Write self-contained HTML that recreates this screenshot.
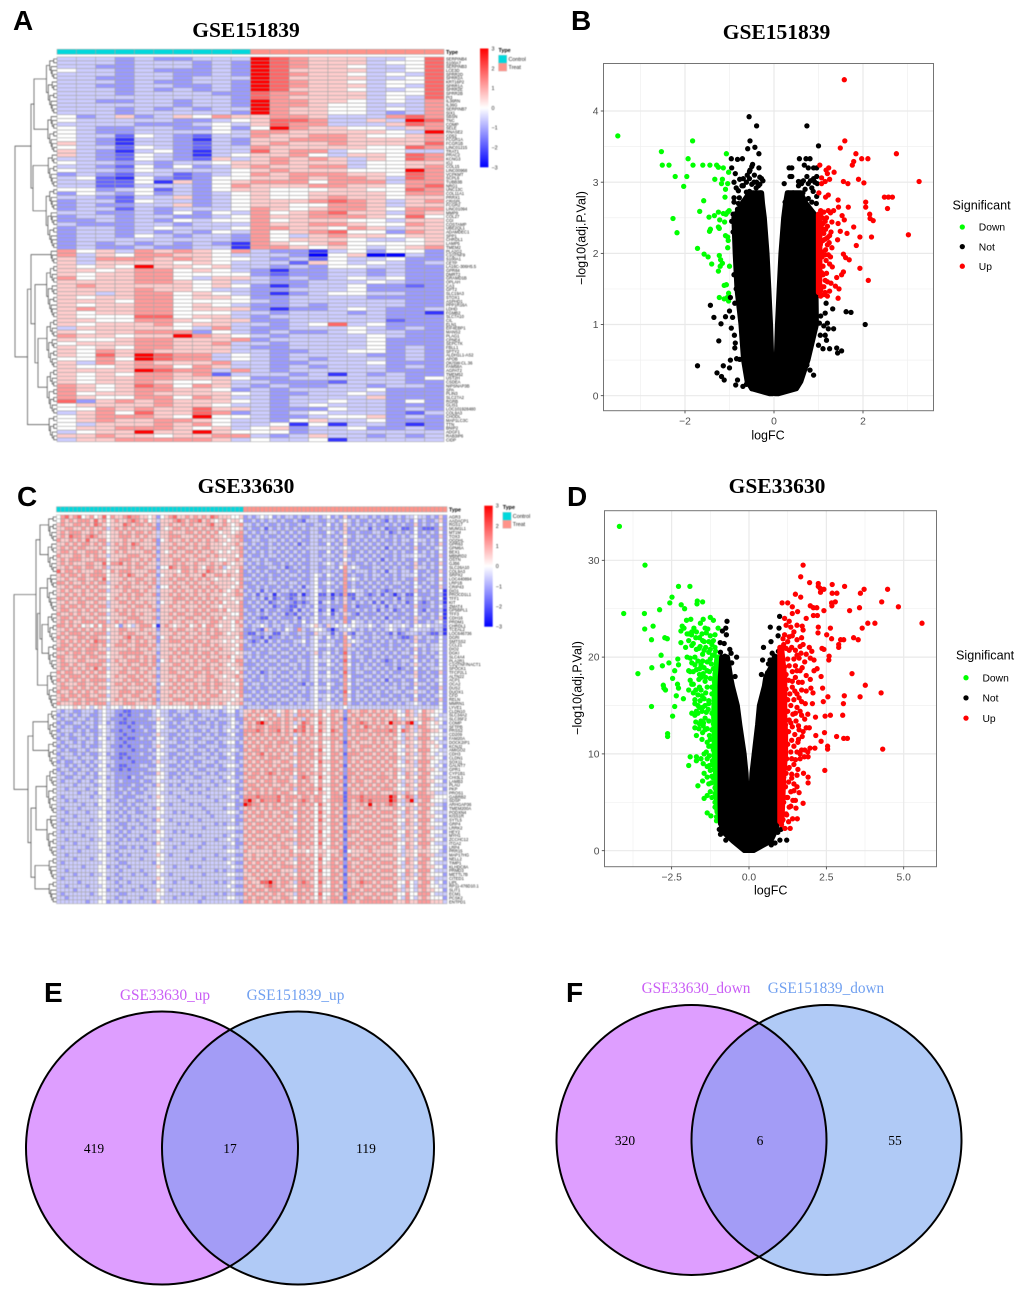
<!DOCTYPE html>
<html lang="en">
<head>
<meta charset="utf-8">
<title>Differential expression figure</title>
<style>
html,body{margin:0;padding:0;background:#fff;}
#fig{position:absolute;left:0;top:0;display:block;}
text{font-family:"Liberation Sans",sans-serif;}
.serif{font-family:"Liberation Serif",serif;}
#hmA,#hmC{filter:blur(0.4px);}
</style>
</head>
<body>
<svg id="fig" xmlns="http://www.w3.org/2000/svg" width="1020" height="1290" viewBox="0 0 1020 1290">
<rect x="0" y="0" width="1020" height="1290" fill="#fff"/>
<g id="hmA"></g>
<g id="hmC"></g>
<g id="vB"></g>
<g id="vD"></g>
<text x="13" y="30" font-size="28" font-weight="bold">A</text>
<text x="571" y="30" font-size="28" font-weight="bold">B</text>
<text x="17" y="506" font-size="28" font-weight="bold">C</text>
<text x="567" y="506" font-size="28" font-weight="bold">D</text>
<text x="44" y="1002" font-size="28" font-weight="bold">E</text>
<text x="566" y="1002" font-size="28" font-weight="bold">F</text>
<text class="serif" x="246" y="37" font-size="21.5" font-weight="bold" text-anchor="middle">GSE151839</text>
<text class="serif" x="776.5" y="39" font-size="21.5" font-weight="bold" text-anchor="middle">GSE151839</text>
<text class="serif" x="246" y="493" font-size="21.5" font-weight="bold" text-anchor="middle">GSE33630</text>
<text class="serif" x="777" y="493" font-size="21.5" font-weight="bold" text-anchor="middle">GSE33630</text>
<defs>
<clipPath id="clipE"><ellipse cx="162" cy="1148" rx="136" ry="136.5"/></clipPath>
<clipPath id="clipF"><ellipse cx="691.5" cy="1140" rx="135" ry="135"/></clipPath>
<linearGradient id="rampGrad" x1="0" y1="0" x2="0" y2="1"><stop offset="0" stop-color="#ff0000"/><stop offset="0.5" stop-color="#ffffff"/><stop offset="1" stop-color="#0000ff"/></linearGradient>
</defs>
<g>
<ellipse cx="162" cy="1148" rx="136" ry="136.5" fill="#de9eff"/>
<ellipse cx="298" cy="1148" rx="136" ry="136.5" fill="#b0caf6"/>
<ellipse cx="298" cy="1148" rx="136" ry="136.5" fill="#a39cf6" clip-path="url(#clipE)"/>
<ellipse cx="162" cy="1148" rx="136" ry="136.5" fill="none" stroke="#000" stroke-width="2"/>
<ellipse cx="298" cy="1148" rx="136" ry="136.5" fill="none" stroke="#000" stroke-width="2"/>
<text class="serif" x="165" y="1000" font-size="15.3" fill="#c95cf5" text-anchor="middle">GSE33630_up</text>
<text class="serif" x="295.5" y="1000" font-size="15.3" fill="#6f9ff0" text-anchor="middle">GSE151839_up</text>
<text class="serif" x="94" y="1153" font-size="13.5" text-anchor="middle">419</text>
<text class="serif" x="230" y="1153" font-size="13.5" text-anchor="middle">17</text>
<text class="serif" x="366" y="1153" font-size="13.5" text-anchor="middle">119</text>
</g>
<g>
<ellipse cx="691.5" cy="1140" rx="135" ry="135" fill="#de9eff"/>
<ellipse cx="826.5" cy="1140" rx="135" ry="135" fill="#b0caf6"/>
<ellipse cx="826.5" cy="1140" rx="135" ry="135" fill="#a39cf6" clip-path="url(#clipF)"/>
<ellipse cx="691.5" cy="1140" rx="135" ry="135" fill="none" stroke="#000" stroke-width="2"/>
<ellipse cx="826.5" cy="1140" rx="135" ry="135" fill="none" stroke="#000" stroke-width="2"/>
<text class="serif" x="696" y="993" font-size="15.3" fill="#c95cf5" text-anchor="middle">GSE33630_down</text>
<text class="serif" x="826" y="993" font-size="15.3" fill="#6f9ff0" text-anchor="middle">GSE151839_down</text>
<text class="serif" x="625" y="1145" font-size="13.5" text-anchor="middle">320</text>
<text class="serif" x="760" y="1145" font-size="13.5" text-anchor="middle">6</text>
<text class="serif" x="895" y="1145" font-size="13.5" text-anchor="middle">55</text>
</g>
</svg>
<script>
/* Heatmap digits: 0..9 index into colourLevels */
const colourLevels=[-3,-2.4,-1.8,-1.2,-0.6,0,0.6,1.2,1.8,3];
const colourbarTicks=[3,2,1,0,-1,-2,-3];
const groupNames=["Control","Treat"];

const labelsA=["SERPINB4","S100A7","SERPINB3","LCE3D","SPRR2D","SPRR2A","KRT16P2","SPRR1A","SPRR2E","SPRR2B","PI3","IL36RN","IL36G","SERPINB7","SIX1","SBSN","TNC","COMP","SELE","RNASE2","CD52","FCGR1A","FCGR1B","LINC01215","TRAT1","PRAC2","KCNG3","IGJ","COL15","LINC00968","VCPKMT","SCPL6","TUBB3B","NRG1","UNC13C","COL11A1","PRRX1","CRISPL","FCGR2","LINC01094","MMP9","COL27","CGI","COSTAMP","UBE2QL1","ADAMDEC1","SPP1","CHRDL1","LAMP5","TMEM2","PLA2G2","C1QTNF9","S100A1","CETP","LA16C-306H5.5","GPR84","DMRT2","GRAMD1B","OPLAH","CA3","GPT2","SLC19A3","STOX1","ASPHD1","PPP1R16A","LDHD","FGMB2","SLC7A10","CIL","ELN1","EIF4EBP1","MANS2","PLAG1","CPNE4","SEPCTK","FBLL1","SPTY2","ALDH1L1-AS2","APOB","OK/SW-CL.36","FAM58A","AGPAT2","TMEM52","UST2H","CSDEA","NIPSNAP3B","SPA","PLIN3","SLC27A2","RGRB","GLIS1","LOC101928480","COL9A3","CHODL","MAP1LC3C","TTN","BNIP2","ADGF1","RAB3IP6","CIDP","USP2B4","CCNPTS"];
const labelsC=["AGR3","AADACP1","RGS17","MUM1L1","MT1M","TOX3","OGDHL","GPR63","GPM6A","BEX1","MBNRD2","OSTN","GJB6","SLC26A10","COL9A3","SRPX2","LOC440894","LRP1B","CRIP43","DIO1","PROCD1L1","TFF1","KIT","ZMAT4","GP5BPL1","TFF3","CDH16","PRDM1","CHRDL1","TCEAL2","LOC646736","DGRI","SMTSS2","CCL21","DIO2","DGKI","SLC4A4","PLA2R1","C1QTNF/NACT1","SPOCK1","TFCP2L1","ALTN22","ACP1","OCA2","DUS2","DUOX1","CFD","RELN","MMRN1","LYVE1","CLDN10","SLC34A2","SLC35F2","COMP","SFTPB","PRSS2","CD209","FAM20A","DOCK2IP1","KCNJ2","AMIGO2","CDH3","CLDN1","SOX11","GALNT7","GPR1","CYP1B1","CHI3L1","LAMB3","PLAU","PKP","PROS1","GABRB2","SDSP","ARHGAP36","TMEM200A","PODXN4","KISS1R","SYTL5","GRP4","LRRK2","HEY2","MYH1","ZCCHC12","ITGA2","LRP4","PRR15","MAP17HG","NELL2","TIMP1","KLHDC8A","PRMD3","METTL7B","CITED1","LIPL","RP11-476D10.1","SLIT1","ECM1","PCSK2","ENTPD1"];

const matrixA=[
"4443433444 9876664458","4443444343 9876664558","4433444343 9876654458","5443433343 9866664458","4443443343 9876654548","4433443444 9866664458",
"4443433443 9876654558","4433443343 9876664548","4443434343 9866654458","4443444433 8776664558","4444444443 8766664548","4433443443 9776654547",
"4444443443 9776554447","4443434344 9766554547","4443444443 9766554347","5346346576 6776444787","5444443345 6887446498","4444333454 6877444687",
"5433443353 5976655467","5433444454 7766666549","5442543244 7667765567","5431443143 6677766667","6431443243 6766766668","5442543244 7666665587",
"6431453144 8677455544","6432543145 6675466587","4432543264 6767646587","5443434456 6766645566","4432535346 7667745567","5443544445 6766655597",
"3432442345 7677766587","4521532355 6676776487","4422516356 7775777477","4422444357 6667766578",
"5534524356 6555665587","3543534345 6556666577","4432446345 6556766566","3442544345 6667876467","3433446345 6655776466","3442434445 7656776577",
"4433435354 7567866476","3443443345 7667776585","3343435455 7566655466","4333443444 7667765576","3443454445 7766576466","3443434354 7567855376",
"3443543443 7546766566","3444444443 7566654456","3434343431 7656755556","3433433441 7765654567",
"7564767657 4331453553","7465776654 4430560043","6477767655 4342544533","6466665654 4426545434",
"6565966564 4343554433","6656775654 3133443433","6566775555 3233443433","7566775466 4343454533",
"6666776564 4334445433","6766666565 3134453323","6666766544 3344453333","6646775654 3134554433",
"6566775665 3344443333","6665775555 4344444433","6566775654 3343444433","6766775666 3133454334",
"6566775554 4344434331","6555885664 3444444333","6655776566 3344444233","6566675664 4345845333",
"4666665474 3344454343","6566777354 3433454433","7665669765 4344445433","6556776667 3444445333",
"5666776674 4344445333","6565776664 3344445343","6576766664 4334455343","6586987745 4344443343",
"5575987745 4343444343","6476766674 4334445333","6556775764 4343444343","6666987747 4344444333",
"6565776724 4434143433","6566776665 3344444435","6566765564 4333244433","7656875764 3433443443",
"7656776653 4344445333","7566766665 4334454333","7655775764 4344446333",
"8367676665 4344544353","5666676654 4345444333","5576766866 4333544343",
"4675866873 4345444324","5677765955 4334556343","5676677654 4356445333","5466676754 4515144313",
"5667776564 5634453343","4566966965 5534444444","6676656677 4346443434","4667777764 5445144444"
];

const matrixC=[
"5786785675 6857667877 6656356786 6767676876 66556","5767677768 6756766787 6756466678 7677867656 75665","6766776768 7656668767 7676366766 7676667866 76567","6677667676 6746767676 6667365677 6767676767 66556","6767776676 7656676767 7676466766 6776767675 66567",
"6768776787 6656677767 6766466777 6667676766 56677","7667676866 7756667666 7667356766 7676767676 65667","6676767767 6746767687 6666366676 6767667666 56676","6767677666 7656677676 7667466767 7667677666 66567","6776766777 6756767666 6776365676 6776766765 65667",
"7666776767 6646666777 6667466766 7667667676 66657","6767776667 7756677766 7676366677 6766776665 56676","6767666776 6857786767 6766466676 7667666766 76566","6676776776 6746666767 7666355876 7767657767 45667","8677676667 7657677766 6677466665 7767668766 56657",
"6767767677 7756676876 6766356676 6766686677 67667","6676677667 6856667667 7667466767 7676767656 66567","7767667676 7746676767 6767466676 6767666766 66657","6676776767 6656767766 6676355767 6676767676 66567","6767667676 7746667677 6766466676 7667676767 65676",
"6676767667 6656676767 7667366767 6767667666 56677","7767676776 7756766767 6666466677 7676767676 66566","6676677667 6646677676 6766356676 6767676767 56657","6767767676 7746666767 7676466766 7666767665 66667","6776676767 6656767676 6667366676 6767676776 75667",
"7667676676 7746677676 7666466767 7667767666 66557","6776767667 6656666777 6667366676 6776676767 56667","6767667776 7746767667 7666466766 7667666776 66576","7767675657 5766536546 7775167656 6756757765 66567","6676767676 6756677666 7666366767 7667667676 66566",
"6767776767 7746676776 6676466676 6766767677 65667","7676677677 6656667867 7667356766 7667666776 66657","6767676768 7746676767 6766366777 6776767666 56566","6776767677 6756777667 7767466666 7667677676 66657","7767676777 6646666767 6676466767 6767666767 66567",
"6676776776 7756677777 7666366676 7767677676 66656","7766767677 6656667667 6767466767 6676767667 67566","6766677666 7746766777 6767356766 7667676776 66577","6776766777 7656676766 7767466677 6767667667 65667","6767676768 6746667677 6676366766 7676677676 66566",
"7677667676 7756677667 6766466776 6767767667 66657","6767776767 6656766776 7667366667 7667667766 56676","7676767677 7746667677 6766466767 6776667676 66567","6766677667 6656776767 7676356676 7667677677 66657","6776767676 7746667666 6767466767 6767667676 66667",
"7667676767 6656677767 7667366676 7676767667 56567","6767767766 7746676677 6676466766 6767676776 66657","6776676777 6656767666 7767366677 7667667666 66566","7666776767 7746667776 6667466766 6776777667 65667","5555656545 6545545565 5655455555 5565656555 45554",
"4344334443 4544332233 3334544334 4433444343 45534","3443434433 4544323233 4334544343 4343344443 34434","4344344343 4543332333 3344654433 3443443434 44533","3433443443 4534322323 3333544343 4434334343 34543","4344334343 5544333233 4334554334 3443444343 44534",
"3444343433 4543323323 3433544443 4343343443 45443","4343443443 4544332333 3334644334 3444434343 34533","3443344343 5534323223 4343554343 4343344434 44443","4344343443 4544332333 3334544443 3443443343 45534","3434443433 4543323233 4334654334 4344334443 34433",
"4343344344 5544333323 3343544443 3443443434 44543","3444343433 4534322333 4334554334 4343344343 45434","4344434443 5543323233 3343544343 3434443443 34533","3433443434 4544333323 3334644443 4343344434 44434","4434344343 5534322333 4433554334 3443443343 45543",
"3443434434 4543323233 3344544443 4344334443 34434","4344344343 5544333333 4333654334 3434443434 44533","4433443443 4534333243 3444554343 4443344443 45434","4344434434 5544343333 4334544444 3444444344 34543","4444344443 4544333343 3443654343 4434344434 44434",
"4434444344 5534343433 4344554444 4344443444 45533","4444434443 5544334343 3444544344 4434344444 44434","4344444434 4544343334 4434654443 4444443444 34543","4434344444 5534433443 3444554444 3444444434 44434","4444443443 5544343434 4344544344 4434344444 45533",
"4344434444 4544434343 4443654444 4444434444 34434","4434444344 5534343443 3444554434 3444443444 45543","4444344444 5544434344 4344544444 4434444344 44434","4344444434 4534344343 4443654344 4444344444 44533","4434434444 5544433444 3444554443 4344444434 34434",
"4444444344 4544343434 4344544444 4444434444 45544","4344344444 5534434344 4443654434 3444444444 44433","4444443444 5544343444 3444554444 4434344444 34544","4434444434 4544434343 4344544344 4444444434 45434","4444344444 5534344444 4443654444 3444434444 44533",
"4344444344 5544433434 3444554434 4444344444 34434","4444434444 4544344444 4344544444 4434444444 45544","4434444444 5534434344 4444654344 4444444434 44433","4444344434 5544344444 3444554444 4344434444 34544","4344444444 4544433444 4443544444 4444444444 45433",
"4444443444 5534344344 4444654434 4434344444 44544","4434444444 5544434444 3444554444 4444444434 34433","4444344434 4544344434 4344544344 4444434444 45544","4344444444 5534434444 4444654444 3444444444 44433","4444434444 5544344344 4443554434 4434444434 34544",
"4434444344 4544434444 3444544444 4444344444 45433","4444344444 5534344434 4344654344 4444444444 44544","4344444434 5544433444 4444554444 3434444434 34433","4434444444 4544344444 3444544434 4444434444 45544","4444444344 5534434344 4443654444 4444344444 44443"
];
const matrixCTreat=[
"3434545343 4434334434 5343634344 3434343434 454434363","3343434434 3343244433 4434543433 4343243434 353433463","4434343343 4334433443 5343643434 3433434343 363434353","3433424343 4343434434 4343634344 2434233422 353222363","4343434434 3434334433 5434633433 3443423434 353434353",
"3434343343 4343434443 4343543443 4343434343 453343363","3344334434 3434334434 4434633434 3434334344 354434353","4343434343 4342434433 5343634343 4343434343 353434363","3434334434 3434344444 4434543434 3434243434 363343453","4343434343 4343434433 5343643343 4343434343 353434353",
"3433434434 3434334434 4434633434 3434334344 454434363","4344343343 4343434443 4343543443 4342434343 353343353","3434344334 3434334434 5434634334 3434343434 363434363","4343334434 2343434433 4435745433 3443434343 364434353","3434343343 4334334434 4343743444 3434244344 353343363",
"3343434334 3443434543 5434734334 3443434344 453434353","4434334343 4334334533 4343745434 3434334343 363344363","3343434434 3443434534 5434734343 4343434434 353434353","4334343343 3434244533 4343734334 3434343343 354343363","3434243434 4343434543 5433745443 4343234434 363434351",
"4342434143 3224134522 4132722443 2342431342 253334341","3343424234 3234344533 4243632434 3434334243 354343351","3434342343 4323234524 5343634343 4242434342 353234341","3343434234 3224343533 4333734233 3434243434 363334352","4334243343 3242434523 5134733434 3424342343 353243341",
"3434343434 2324343534 5243643243 3343434334 353434351","4343224343 3342434533 4343733434 3434243343 364334361","3434343434 4343534534 4434735443 4343434434 363343452","4344543443 4433445643 6454545444 5434454454 355454442","3343264343 5437434554 3134454343 4343454343 454443441",
"3224344224 4334433644 4243632443 3434324234 443432241","3433242334 3433434543 5343753434 3443434322 364344353","4323424343 3344534533 4433745443 3434343434 363343353","3434343434 4343434544 5434763434 4343343343 454434453","3343434343 3434344533 4343744343 3434343434 363434453",
"4434334434 4343434634 5343843434 3443434344 353434353","3434343343 3434334534 4434753443 3434343433 463343453","4343434434 4334434544 5343843343 4343234344 353434353","3334343343 3443434533 5434753434 3434334343 464344353","4343434434 4343434544 4343743434 4343434234 353434453",
"3434234343 3434334533 5334843443 3434343343 363343363","4343434434 4344434544 5443753334 4343434434 463434353","3433434343 3434334534 4334743443 3434243343 353343453","4344343434 4343243533 5433753434 4343434344 364434353","3434334343 3434434544 5334743343 3434344343 353343363",
"3343434434 4343434533 4343853434 3443434434 464434353","4434343343 3434334544 5434743443 4343343343 353343453","3343434434 4344434534 5343753434 3434434344 363434363","4434343343 3434344544 4434743343 4343343434 454343353","3444434444 4444444544 5444544444 4444444444 444444453",
"6676767656 7657676576 5776376677 6767676547 645766553","6767676746 7647767675 6766367676 7676767557 646765544","7676567676 7676476576 5767276766 6767667646 656776454","6768976776 7646876586 5776376787 6767697768 945765653","6767767776 7657867576 5767367768 7676767547 647765544",
"7778767786 7687867586 5876376777 6777787587 646776653","7676767676 7646767675 5767376766 7676767546 656765554","6767676767 6757676576 6776367677 6767676547 647775453","7676767677 7647767675 5767276766 6767667646 656766544","6767677676 6767676576 5766376677 7676767557 646765653",
"7677676767 6757767685 5767367676 6767676546 657775544","6767867676 7647677576 5776277767 7676767557 646765454","7676767776 6767767675 5767376676 6767677646 656766553","6767677667 7657676586 6776376767 7676767547 647775544","7676767676 6747767575 5767267676 6767676556 646765453",
"6767676767 7767676576 5776376767 7676767646 657766544","7677678767 6757767675 6767377676 6767667547 646775553","6776767676 7647876586 5776276767 7677767557 657765444","7667677677 7657676575 5767376776 6767676646 646766553","6776767667 6767767576 6776267676 7676767547 657775444",
"7677676776 6747677685 5767376767 6767776556 646765553","6767676767 7657767576 5776276676 7676667647 657766444","7778777786 7776776775 5777277787 7777798568 747776555","8976877786 7767876775 6777276787 8777798647 946775554","9877676767 7657767586 5767376676 9676787546 657766443",
"6767676776 6767676575 5776276767 7676667657 646775553","7676767667 7647767586 5767366676 6767776547 657765444","6767767676 7757676575 6776277767 7676667646 646766553","7676676767 6647767586 5767376676 6767776557 657775444","6767767676 7657676575 6776276767 7676667547 646765553",
"7676676767 6767767576 5767366676 6767776646 657766444","6767767667 7647676585 5776277767 7676667557 646775553","7676676776 6657767575 6767376676 6767776547 657765444","6767767676 7767676576 5776266767 7676667646 646766553","7676676767 6647767585 5767377676 6767776557 657775444",
"6767767667 7657676575 6776276767 7676667547 646765553","7666666766 6756656566 5667256666 7666666546 656665543","6676676767 6767767576 5767376676 6767776646 657766444","7676767676 7647676585 5776267767 7676667557 646775553","6767676767 6657767575 6767376676 6767776547 657765444",
"7676767667 7767676576 6776276767 7676667646 646766553","6767676776 6647767585 5767377676 6767776557 657775444","6676767676 7657676575 5776266767 7676667547 646765553","7667676767 6767767576 6767376676 6767776646 657766444","6766889767 7647876586 5776276787 7676667557 546775453",
"7676678767 6657777575 5767376676 6767776547 547765544","6767767776 7767676576 6776267767 7676667646 546766553","7676676767 6647767585 5767377676 6767776557 557775444","6767767667 7657676575 6776276767 7676667547 546765553","7767676776 7767767676 6777377677 7777776667 667776664"
];

/* Volcano B data: [logFC, -log10(adj.P.Val)] */
const bXTicks=[-2,0,2];
const bYTicks=[0,1,2,3,4];
const bDown=[[-3.51,3.65],[-2.53,3.43],[-2.51,3.24],[-2.36,3.24],[-1.93,3.33],[-1.83,3.58],[-1.82,3.24],[-2.22,3.08],[-1.96,3.08],[-2.03,2.94],[-1.6,3.24],[-1.44,3.24],[-1.29,3.24],[-1.25,3.21],[-1.14,3.2],[-1.07,3.4],[-1.02,3.14],[-1.33,3.04],[-1.16,3.04],[-1.18,2.98],[-1.04,2.98],[-1.09,2.9],[-1.1,2.79],[-1.58,2.74],[-1.67,2.59],[-2.27,2.49],[-2.18,2.29],[-1.46,2.51],[-1.34,2.53],[-1.25,2.58],[-1.14,2.56],[-1.04,2.58],[-1.22,2.47],[-1.11,2.44],[-1.25,2.37],[-1.23,2.35],[-1.43,2.34],[-1.45,2.31],[-1.09,2.25],[-1.04,2.23],[-1.03,2.18],[-1.04,2.08],[-1.72,2.07],[-1.57,1.99],[-1.48,1.95],[-1.23,1.97],[-1.2,1.91],[-1.16,1.86],[-1.4,1.85],[-1.21,1.82],[-1.0,1.82],[-1.25,1.75],[-1.12,1.55],[-1.07,1.56],[-1.23,1.38],[-1.12,1.36],[-1.02,1.44],[-1.02,1.33],[-1.05,1.38],[-1.08,2.55],[-1.01,2.6]];
const bUp=[[1.58,4.44],[1.59,3.58],[1.49,3.48],[1.84,3.4],[2.75,3.4],[1.97,3.33],[2.11,3.33],[1.79,3.29],[1.76,3.24],[3.26,3.01],[1.03,3.24],[1.23,3.2],[1.17,3.17],[1.35,3.14],[1.2,3.12],[1.07,3.06],[1.25,3.04],[1.15,3.01],[1.07,2.98],[1.56,3.01],[1.66,2.98],[1.9,3.04],[2.02,2.99],[1.01,2.85],[1.22,2.82],[1.16,2.79],[1.44,2.75],[2.48,2.79],[2.57,2.79],[2.66,2.79],[2.55,2.63],[2.06,2.72],[2.06,2.65],[1.67,2.65],[1.45,2.65],[2.15,2.55],[2.16,2.49],[2.23,2.46],[1.34,2.6],[3.02,2.26],[2.19,2.23],[1.93,2.23],[1.85,2.11],[1.79,2.37],[1.64,2.28],[1.43,2.19],[1.49,2.31],[1.56,1.99],[1.61,1.94],[1.69,1.91],[1.93,1.79],[2.12,1.62],[1.56,1.74],[1.52,1.7],[1.41,1.66],[1.38,1.54],[1.46,1.5],[1.44,1.37],[1.31,1.81],[1.53,2.53],[1.58,2.47],[1.44,2.42],[1.27,2.57],[1.3,2.44],[1.28,2.3],[1.3,2.08],[1.27,1.95],[1.22,2.6],[1.12,2.58],[1.18,2.5],[1.08,2.5],[1.1,2.42],[1.16,2.34],[1.06,2.3],[1.2,2.22],[1.1,2.18],[1.04,2.12],[1.16,2.05],[1.08,2.02],[1.22,1.98],[1.03,1.88],[1.1,1.82],[1.18,1.72],[1.07,1.73],[1.2,1.6],[1.12,1.53],[1.04,1.55],[1.25,1.47],[1.12,1.42],[1.05,1.4],[1.28,1.58],[1.02,1.62],[1.17,1.9],[1.12,2.28],[1.24,2.15],[1.01,2.25],[1.05,2.42],[1.05,2.6],[1.15,1.45],[1.05,2.55],[1.15,2.45],[1.2,2.38],[1.08,2.35],[1.15,2.2],[1.25,2.25],[1.05,2.15],[1.2,2.12],[1.08,1.95],[1.15,1.98],[1.25,1.85],[1.1,1.7],[1.15,1.62],[1.05,1.48],[1.2,1.4]];
const bNot=[[-0.56,3.92],[-0.39,3.79],[0.74,3.79],[-0.54,3.58],[1.0,3.51],[-0.59,3.47],[-0.43,3.49],[-0.34,3.4],[-0.96,3.33],[-0.82,3.32],[-0.71,3.33],[-0.95,3.2],[0.57,3.33],[0.72,3.33],[0.81,3.33],[0.68,3.24],[0.34,3.2],[0.4,3.2],[0.89,3.2],[0.96,3.2],[0.77,3.2],[-0.5,3.22],[-0.54,3.17],[-0.34,3.2],[-0.87,3.12],[-0.77,3.04],[-0.69,3.05],[-0.69,2.95],[-0.32,3.07],[-0.25,3.02],[-0.39,3],[-0.5,2.97],[-0.32,2.97],[-0.44,3.1],[-0.62,3.0],[-0.55,2.87],[-0.9,2.78],[-0.78,2.78],[-0.6,2.78],[-0.4,2.85],[-0.3,2.85],[-0.92,2.55],[-0.82,2.62],[0.23,2.98],[0.36,3.08],[0.4,3.08],[0.55,3.01],[0.62,2.98],[0.74,3.08],[0.89,3.05],[0.96,3.08],[0.77,2.98],[0.97,2.98],[0.32,2.85],[0.43,2.85],[0.65,2.85],[0.88,2.87],[0.36,2.77],[0.62,2.75],[0.77,2.77],[0.96,2.8],[0.52,2.72],[0.25,2.72],[-1.43,1.27],[-1.35,1.1],[-1.19,1.01],[-1.09,1.11],[-1.0,1.19],[-1.24,0.77],[-0.89,0.85],[-0.87,0.74],[-0.88,0.67],[-0.96,0.95],[-1.72,0.42],[-1.14,0.42],[-1.28,0.32],[-1.18,0.27],[-1.12,0.22],[-1.0,0.39],[-0.98,0.5],[-0.84,0.52],[-0.77,0.51],[-0.82,0.22],[-0.86,0.15],[-0.7,0.13],[-0.88,1.3],[-0.78,1.3],[-0.85,1.5],[-0.9,1.7],[-0.84,1.85],[1.17,1.3],[1.32,1.22],[1.15,1.16],[1.62,1.18],[1.73,1.17],[2.05,1.0],[1.34,0.94],[1.2,1.02],[1.22,0.94],[1.15,0.85],[1.18,0.78],[1.41,0.67],[1.52,0.63],[1.43,0.6],[1.25,0.66],[1.1,0.66],[1.04,0.85],[1.0,0.71],[0.89,0.29],[0.81,0.36],[0.74,0.43],[1.05,1.12],[1.12,0.98],[1.02,1.02],[-0.98,1.38],[-0.93,1.1],[0.66,0.36],[0.5,0.2],[-0.62,0.16],[-0.5,0.1],[-0.55,3.15],[-0.48,3.25],[-0.6,3.1],[-0.9,3.0],[-0.85,2.92],[-0.8,2.88],[-0.72,2.95],[-0.55,3.05],[-0.45,3.0],[-0.35,2.95],[-0.28,3.05],[-0.4,2.92],[-0.62,2.86],[-0.9,2.72],[-0.8,2.7],[-0.7,2.72],[-0.3,2.78],[-0.5,2.72],[-0.6,2.68],[-0.95,2.45],[-0.92,2.3],[0.55,2.95],[0.6,3.0],[0.66,3.02],[0.82,3.02],[0.92,3.0],[0.7,2.9],[0.85,2.92],[0.3,2.72],[0.4,2.78],[0.5,2.68],[0.7,2.7],[0.85,2.72],[0.95,2.7],[0.6,2.65],[0.28,2.62]];
const bMassY=[0.03,0.1,0.2,0.5,1,1.5,2,2.5,2.7,2.85];
const bLeftOuter=[-0.1,-0.5,-0.6,-0.68,-0.74,-0.83,-0.87,-0.9,-0.72,-0.55];
const bLeftInner=[-0.03,-0.04,-0.05,-0.055,-0.08,-0.12,-0.16,-0.22,-0.26,-0.28];
const bRightInner=[0.03,0.04,0.05,0.055,0.08,0.12,0.16,0.22,0.26,0.3];
const bRightOuter=[0.1,0.5,0.6,0.76,0.95,0.94,0.97,0.97,0.72,0.6];

/* Volcano D data */
const dXTicks=[-2.5,0,2.5,5];
const dYTicks=[0,10,20,30];
const dXLabels=["−2.5","0.0","2.5","5.0"];
const dDown=[[-4.19,33.5],[-3.36,29.5],[-4.05,24.5],[-3.38,24.5],[-2.89,24.9],[-2.28,27.3],[-1.91,27.3],[-2.49,26.2],[-2.56,25.6],[-2.19,25.4],[-2.08,25],[-1.67,25.8],[-1.68,25.5],[-1.5,25.7],[-3.37,22.9],[-3.1,23.2],[-3.15,21.8],[-2.72,22],[-2.64,21.9],[-2.84,20.2],[-2.8,19.1],[-2.59,19.4],[-3.14,18.9],[-3.59,18.3],[-2.4,18.6],[-2.47,17.8],[-2.77,17.1],[-2.75,16.8],[-2.7,16.6],[-2.31,17.2],[-2.28,16.8],[-2.35,16],[-2.12,15.7],[-2.4,14.9],[-3.15,14.9],[-2.47,13.9],[-2.63,12.1],[-2.63,11.8],[-2.02,23.8],[-1.88,23.9],[-2.16,23.2],[-2.2,22.7],[-1.86,22.3],[-1.57,23.5],[-1.48,23.9],[-1.25,24.1],[-1.15,23.8],[-1.42,23],[-1.0,23],[-2.2,21.5],[-2.05,21],[-1.85,21.2],[-1.6,22],[-1.5,21.7],[-1.4,21],[-1.3,20.5],[-1.15,21.7],[-1.25,19.8],[-1.5,20.3],[-1.75,20],[-1.9,19.9],[-1.65,19.6],[-2.3,19.8],[-2.28,19.2],[-1.95,18.6],[-1.8,18.5],[-1.6,18.2],[-1.45,18.9],[-1.28,18.5],[-1.1,18.3],[-1.85,17.2],[-1.95,16.6],[-1.8,16.3],[-1.6,16.9],[-1.4,16.3],[-1.2,16.9],[-1.75,15.6],[-1.65,15],[-1.85,14.2],[-1.75,14],[-1.5,14.8],[-1.38,14.3],[-1.72,13.3],[-1.55,13.4],[-1.75,12.7],[-1.62,12.6],[-1.42,12.5],[-1.7,11.9],[-1.52,11.5],[-1.28,11.9],[-1.22,10.8],[-1.45,10],[-1.35,9.5],[-1.18,9.3],[-1.95,8.8],[-1.9,9.7],[-1.7,9.7],[-1.7,9.3],[-1.45,8],[-1.65,6.7],[-1.5,7.2],[-1.35,7.6],[-1.3,6.9],[-1.2,5.5],[-1.45,5.4],[-1.25,6.1],[-1.35,3.9],[-1.23,3.6],[-1.05,3.1],[-1.05,3.5],[-1.1,4.5],[-1.1,5],[-1.55,19.2],[-1.35,19.5],[-1.42,17.5],[-1.52,16],[-1.3,15.5],[-1.47,13.2],[-1.35,11.2],[-1.58,21.1],[-1.7,20.8],[-1.25,22.2],[-1.1,22.3],[-1.48,18.3],[-1.62,17.7],[-1.95,22.4],[-1.7,22.6],[-1.33,22.9],[-1.08,20.6],[-1.18,20.2],[-2.0,20],[-1.58,15.5],[-1.42,15],[-1.65,14.2],[-1.5,12.2],[-1.2,7.7],[-1.15,8.4],[-1.28,8.8],[-1.1,6.5],[-2.1,23],[-2,22.4],[-1.85,22.6],[-1.78,23],[-1.72,22],[-1.52,22.4],[-1.45,21.6],[-1.38,22.5],[-1.3,21.6],[-1.2,21.3],[-1.1,21],[-1.95,21.7],[-1.8,21.4],[-1.62,20.9],[-1.45,20.7],[-1.25,20.8],[-1.12,20.2],[-1.85,19.4],[-1.75,19.2],[-1.6,18.8],[-1.5,19.6],[-1.35,18.6],[-1.22,19.3],[-1.15,18.8],[-1.05,19.4],[-1.7,18.7],[-1.55,17.9],[-1.4,17.9],[-1.25,17.8],[-1.12,17.5],[-1.9,18.5],[-1.9,17.6],[-1.8,17.2],[-1.72,16.6],[-1.55,16.6],[-1.35,16.9],[-1.2,16.2],[-1.08,16.6],[-1.65,16.1],[-1.45,15.7],[-1.3,15.2],[-1.12,15.4],[-1.75,15.2],[-1.6,14.8],[-1.52,14.4],[-1.32,14.6],[-1.2,14.2],[-1.08,14.3],[-1.7,14.4],[-1.42,13.7],[-1.3,13.4],[-1.15,13.1],[-1.6,13.1],[-1.48,12.9],[-1.2,12.5],[-1.08,12.4],[-1.35,12.6],[-1.25,11.5],[-1.12,11.4],[-1.3,10.8],[-1.15,10.4],[-1.08,10.9],[-1.38,10.2],[-1.28,9.8],[-1.08,9.6],[-1.55,9.5],[-1.48,9],[-1.35,8.7],[-1.2,8.9],[-1.08,8.3],[-1.25,8.3],[-1.15,7.5],[-1.05,7.2],[-1.22,7],[-1.1,5.9],[-1.05,4.6],[-1.35,5.7]];
const dUp=[[1.75,29.5],[1.67,28.3],[1.96,27.7],[2.24,27.6],[2.24,27.3],[2.3,27.1],[2.31,26.7],[2.42,27],[2.69,27.5],[3.09,27.3],[2.69,26.6],[2.84,26.6],[3.72,27],[3.6,26.6],[4.48,27],[1.5,26.5],[1.67,26.2],[4.29,25.7],[4.83,25.2],[3.57,25.1],[3.25,24.8],[2.68,25.3],[2.67,25.6],[2.79,25.7],[2.42,24.8],[1.98,25.3],[2.08,25.1],[2.19,25.1],[1.07,25.6],[1.25,25.6],[1.4,25.2],[1.57,24.7],[1.4,24.5],[2.08,24.3],[2.21,24.3],[1.85,24],[3.84,23.5],[4.07,23.5],[5.59,23.5],[3.66,23],[2.24,23.1],[2.63,23],[2.23,22.5],[2.51,22.3],[2.67,21.9],[3.38,22],[3.53,21.8],[2.96,21.8],[3.06,21.8],[2.9,21.3],[2.9,21],[2.36,20.9],[2.42,20.8],[2.03,20.6],[2.59,20.1],[2.58,19.7],[3.33,18.3],[3.76,17.1],[4.27,16.3],[3.08,16],[3.59,15.9],[3.05,15.2],[3.03,14],[2.63,14],[2.46,13.9],[2.83,11.8],[3.06,11.6],[3.18,11.6],[4.32,10.5],[2.16,11.9],[2.33,11.3],[2.44,12.2],[2.54,10.8],[2.54,10.5],[2.45,8.3],[2.13,10.6],[1.97,10.6],[1.91,9.7],[1.79,9.7],[1.76,8],[1.91,7.6],[1.91,7],[1.75,4.9],[1.56,3.3],[1.41,3.3],[1.52,4.4],[1.33,2.3],[1.16,2.3],[1.15,24],[1.3,23.7],[1.55,23.3],[1.72,23.2],[1.75,22.8],[1.1,21.9],[1.25,21.6],[1.4,22.2],[1.65,21.1],[1.75,21.3],[1.85,20.3],[1.98,19.9],[1.55,20.2],[1.3,20.7],[1.8,19.5],[2.1,19.7],[2.1,18.6],[2.2,18.8],[2.33,18],[1.85,18.1],[1.65,18.6],[1.98,17.7],[2.0,16.8],[2.07,16.3],[2.38,16.8],[2.4,15.4],[2.55,15.9],[1.85,16.5],[1.62,15.8],[1.82,15.2],[2.05,15.2],[1.9,14.1],[2.15,13.8],[1.8,13.6],[1.6,12.9],[1.85,12.7],[1.95,12.7],[1.72,11.8],[1.58,11.2],[1.9,10.2],[1.65,10],[1.5,9.4],[1.55,7.8],[1.38,7.5],[1.55,6.6],[1.45,6.2],[1.62,6],[1.5,5.2],[1.35,4.6],[1.22,3.7],[1.28,3],[1.05,2.7],[1.4,17.5],[1.48,16.5],[1.5,14.2],[1.35,13.2],[1.38,9.5],[1.28,8.5],[1.22,5.5],[1.7,22],[1.95,21],[1.5,19.1],[1.62,19.9],[1.72,17.4],[1.2,23.3],[1.35,23.1],[1.45,22.6],[1.15,22.3],[1.3,22.1],[1.55,21.8],[1.12,21.3],[1.2,20.9],[1.38,21],[1.5,20.7],[1.05,20.6],[1.45,19.8],[1.25,19.8],[1.1,19.6],[1.68,20.4],[1.15,19],[1.3,19.1],[1.4,18.5],[1.55,18.6],[1.72,18.9],[1.2,18.2],[1.05,18.3],[1.5,17.9],[1.6,17.4],[1.28,17.6],[1.12,17.3],[1.4,16.9],[1.2,16.7],[1.32,16.2],[1.08,16.3],[1.55,16.2],[1.7,16.6],[1.25,15.6],[1.45,15.6],[1.7,15.4],[1.12,15.2],[1.35,15],[1.55,14.8],[1.65,14.4],[1.25,14.4],[1.42,14.1],[1.1,14],[1.7,14],[1.3,13.5],[1.52,13.4],[1.18,13],[1.4,12.8],[1.62,12.5],[1.28,12.3],[1.48,12],[1.75,12.3],[1.15,11.8],[1.38,11.4],[1.6,11.5],[1.25,11],[1.45,10.8],[1.7,10.4],[1.12,10.3],[1.35,10.2],[1.55,10.2],[1.8,10.4],[1.22,9.5],[1.65,9.5],[1.45,8.9],[1.12,8.9],[1.3,8.6],[1.58,8.4],[1.2,8],[1.38,7.9],[1.12,7.6],[1.28,7.1],[1.45,6.9],[1.18,6.6],[1.35,6.1],[1.08,6],[1.25,5.5],[1.42,5.2],[1.12,5],[1.3,4.5],[1.05,4.2],[1.2,3.8],[1.1,3.2]];
const dNot=[[-0.71,23.7],[-0.75,23],[-0.86,22.7],[-0.73,22.3],[-0.93,21.5],[-0.8,21.4],[-0.4,20],[-0.58,20.4],[-0.62,20.8],[-0.56,19.4],[-0.45,18],[-0.92,20.5],[-0.78,20.1],[-0.68,18.9],[0.99,24.2],[0.69,23.1],[0.97,23],[0.94,22.2],[0.71,21.6],[0.47,21],[0.44,19.7],[0.75,20.4],[0.68,19.7],[0.63,19.3],[0.95,20.6],[0.84,20.1],[0.9,19.1],[0.78,19.6],[0.4,18.2],[0.6,18.4],[1.22,1.1],[1.0,1.1],[0.84,0.8],[-0.96,2.2],[-0.92,1.7],[-0.86,3],[-0.92,2.8],[0.93,1.9],[1.03,2.2],[-0.75,1.1],[0.72,0.6]];
const dMassY=[0.03,1,2,3,5,8,10,13,15,17,18,19,20];
const dLeftOuter=[-0.15,-0.52,-0.85,-0.92,-0.93,-0.93,-0.93,-0.93,-0.93,-0.93,-0.92,-0.9,-0.88];
const dLeftInner=[-0.02,-0.03,-0.03,-0.04,-0.05,-0.1,-0.16,-0.3,-0.38,-0.54,-0.6,-0.65,-0.7];
const dRightInner=[0.02,0.03,0.03,0.04,0.05,0.1,0.17,0.28,0.34,0.5,0.55,0.72,0.82];
const dRightOuter=[0.15,0.7,0.85,0.93,0.93,0.93,0.93,0.93,0.93,0.93,0.92,0.9,0.9];
const dDownBandY=[4,6,8,10,12,14,16,18,20];
const dDownBandOuter=[-1.03,-1.06,-1.08,-1.12,-1.12,-1.14,-1.12,-1.1,-1.03];
const dUpBandY=[3,6,8,10,12,14,16,18,20,21];
const dUpBandOuter=[1.06,1.1,1.12,1.18,1.18,1.15,1.15,1.15,1.08,1.05];
const bUpBandY=[1.45,1.8,2.2,2.55];
const bUpBandOuter=[1.02,1.03,1.03,1.03];

const legendNames=["Down","Not","Up"];
const legendColours=["#00ff00","#000000","#ff0000"];

const NS="http://www.w3.org/2000/svg";
function mk(tag,attrs,parent,txt){
  const e=document.createElementNS(NS,tag);
  for(const k in attrs){e.setAttribute(k,attrs[k]);}
  if(txt!==undefined){e.textContent=txt;}
  parent.appendChild(e);
  return e;
}
function scale(d0,d1,r0,r1){return v=>r0+(v-d0)*(r1-r0)/(d1-d0);}
function cellColour(v){
  const t=Math.min(1,Math.abs(v)/3);
  const c=Math.round(255*(1-t));
  return v>=0?`rgb(255,${c},${c})`:`rgb(${c},${c},255)`;
}

function drawTree(tree,g,rowY,right){
  let row=0;
  function line(d){
    const p=mk('path',{d:d,fill:'none',stroke:'#444','stroke-width':0.7},g);
    
    
  }
  function comb(n){
    if(n===1){const y=rowY(row);row++;return {x:right,y:y};}
    const a=Math.max(1,Math.floor(n*0.42));
    const p=comb(a),q=comb(n-a);
    const x=right-2.5*Math.log2(n)-0.8;
    line(`M${p.x} ${p.y}H${x}V${q.y}H${q.x}`);
    return {x:x,y:(p.y+q.y)/2};
  }
  function walk(node){
    if(typeof node==='number'){return comb(node);}
    const p=walk(node[1]),q=walk(node[2]);
    line(`M${p.x} ${p.y}H${node[0]}V${q.y}H${q.x}`);
    return {x:node[0],y:(p.y+q.y)/2};
  }
  walk(tree);
}

function drawHeatmap(g,cfg){
  const nCols=cfg.rows[0].length;
  const nRows=cfg.rows.length;
  const cw=(cfg.x1-cfg.x0)/nCols, rh=(cfg.y1-cfg.y0)/nRows;
  for(let c=0;c<nCols;c++){
    const a=mk('rect',{x:cfg.x0+c*cw,y:cfg.annY0,width:cw,height:cfg.annY1-cfg.annY0,fill:c<cfg.nControl?'#00d8dc':'#ff9289',stroke:'#a8a8a8','stroke-width':cfg.sw},g);
    
    
  }
  mk('text',{x:cfg.x1+2,y:cfg.annY1-0.4,'font-size':5.3,'font-weight':'bold'},g,'Type');
  cfg.rows.forEach((row,r)=>{
    for(let c=0;c<nCols;c++){
      const v=colourLevels[+row[c]];
      const cell=mk('rect',{x:cfg.x0+c*cw,y:cfg.y0+r*rh,width:cw,height:rh,fill:cellColour(v),stroke:'#a6a6a6','stroke-width':cfg.sw},g);
      
      
    }
    const lab=mk('text',{x:cfg.x1+2,y:cfg.y0+r*rh+rh/2+1.5,'font-size':4.2,fill:'#111'},g,cfg.labels[r]||'');
    
    
  });
  drawTree(cfg.tree,g,r=>cfg.y0+r*rh+rh/2,cfg.x0);
  const bar=mk('rect',{x:cfg.cbX,y:cfg.cbY0,width:8.4,height:cfg.cbY1-cfg.cbY0,fill:'url(#rampGrad)'},g);
  
  
  const cy=scale(3,-3,cfg.cbY0,cfg.cbY1);
  colourbarTicks.forEach(t=>{
    const tk=mk('text',{x:cfg.cbX+11.5,y:cy(t)+2,'font-size':5.4,fill:'#222'},g,(t<0?'−':'')+Math.abs(t));
    
    
  });
  const lx=cfg.cbX+18.5;
  mk('text',{x:lx,y:cfg.cbY0+3.5,'font-size':5.4,'font-weight':'bold'},g,'Type');
  groupNames.forEach((n,i)=>{
    const sw=mk('rect',{x:lx,y:cfg.cbY0+6.6+i*8,width:8.3,height:8,fill:i?'#ff9289':'#00d8dc',stroke:'#bbb','stroke-width':0.3},g);
    
    
    const t=mk('text',{x:lx+10,y:cfg.cbY0+12.5+i*8,'font-size':5.4,fill:'#222'},g,n);
    
    
  });
}

const treeA=[15,[31,[34,15,10],[33,9,16]],[27.5,[31,4,[35,14,[38,13,12]]],7]];
const treeC=[14,[36,[40,7,8],[37.5,[40,10,[42,8,7]],10]],[28,[33,8,7],[31,[36,12,11],[35,6,6]]]];

drawHeatmap(document.getElementById('hmA'),{
  rows:matrixA.map(s=>s.replace(/ /g,'')),labels:labelsA,nControl:10,tree:treeA,
  x0:57,x1:444,y0:57,y1:441.7,annY0:49.3,annY1:54.3,sw:0.55,cbX:480,cbY0:48.5,cbY1:167.3
});
drawHeatmap(document.getElementById('hmC'),{
  rows:matrixC.map((s,i)=>s.replace(/ /g,'')+matrixCTreat[i].replace(/ /g,'')),labels:labelsC,nControl:45,tree:treeC,
  x0:56.5,x1:447,y0:515,y1:903.7,annY0:506.7,annY1:512,sw:0.5,cbX:484.3,cbY0:505.7,cbY1:626.7
});

function massPath(x,y,ys,a,b){
  let d='';
  ys.forEach((v,i)=>{d+=(i?'L':'M')+x(a[i]).toFixed(1)+' '+y(v).toFixed(1);});
  for(let i=ys.length-1;i>=0;i--){d+='L'+x(b[i]).toFixed(1)+' '+y(ys[i]).toFixed(1);}
  return d+'Z';
}

function drawVolcano(g,c){
  const x=scale(c.xRef[0],c.xRef[1],c.xPx[0],c.xPx[1]);
  const y=scale(c.yRef[0],c.yRef[1],c.yPx[0],c.yPx[1]);
  const xMin=c.px0,xMax=c.px1,yTop=c.py0,yBot=c.py1;
  const bg=mk('rect',{x:xMin,y:yTop,width:xMax-xMin,height:yBot-yTop,fill:'#fff'},g);
  
  
  c.xMinor.forEach(v=>{
    const l=mk('line',{x1:x(v),x2:x(v),y1:yTop,y2:yBot,stroke:'#f0f0f0','stroke-width':0.7},g);
    
    
  });
  c.yMinor.forEach(v=>{
    const l=mk('line',{y1:y(v),y2:y(v),x1:xMin,x2:xMax,stroke:'#f0f0f0','stroke-width':0.7},g);
    
    
  });
  c.xTicks.forEach(v=>{
    const l=mk('line',{x1:x(v),x2:x(v),y1:yTop,y2:yBot,stroke:'#e9e9e9','stroke-width':1.2},g);
    
    
  });
  c.yTicks.forEach(v=>{
    const l=mk('line',{y1:y(v),y2:y(v),x1:xMin,x2:xMax,stroke:'#e9e9e9','stroke-width':1.2},g);
    
    
  });
  function dots(list,col,name){
    list.forEach(p=>{
      const d=mk('circle',{cx:x(p[0]).toFixed(1),cy:y(p[1]).toFixed(1),r:2.65,fill:col},g);
      
      
    });
  }
  function band(ys,outer,inner,col,name){
    const p=mk('path',{d:massPath(x,y,ys,outer,ys.map(()=>inner)),fill:col,stroke:col,'stroke-width':5.3,'stroke-linejoin':'round'},g);
    
    
  }
  if(c.downBandY){band(c.downBandY,c.downBandOuter,c.xSig[0],'#00ff00','down-dense-band');}
  dots(c.down,'#00ff00','point-down');
  const l=mk('path',{d:massPath(x,y,c.massY,c.leftOuter,c.leftInner),fill:'#000',stroke:'#000','stroke-width':5.3,'stroke-linejoin':'round'},g);
  
  
  const r=mk('path',{d:massPath(x,y,c.massY,c.rightInner,c.rightOuter),fill:'#000',stroke:'#000','stroke-width':5.3,'stroke-linejoin':'round'},g);
  
  
  dots(c.not,'#000','point-not');
  if(c.upBandY){band(c.upBandY,c.upBandOuter,c.xSig[1],'#ff0000','up-dense-band');}
  dots(c.up,'#ff0000','point-up');
  const fr=mk('rect',{x:xMin,y:yTop,width:xMax-xMin,height:yBot-yTop,fill:'none',stroke:'#747474','stroke-width':1},g);
  
  
  c.xTicks.forEach((v,i)=>{
    mk('line',{x1:x(v),x2:x(v),y1:yBot,y2:yBot+2.7,stroke:'#333','stroke-width':0.8},g);
    const t=mk('text',{x:x(v),y:yBot+14,'font-size':10.3,fill:'#4d4d4d','text-anchor':'middle'},g,c.xLabels?c.xLabels[i]:String(v).replace('-','−'));
    
    
  });
  c.yTicks.forEach(v=>{
    mk('line',{x1:xMin-2.7,x2:xMin,y1:y(v),y2:y(v),stroke:'#333','stroke-width':0.8},g);
    const t=mk('text',{x:xMin-5,y:y(v)+3.6,'font-size':10.3,fill:'#4d4d4d','text-anchor':'end'},g,String(v));
    
    
  });
  const xt=mk('text',{x:c.xTitle[0],y:c.xTitle[1],'font-size':12.5,'text-anchor':'middle'},g,'logFC');
  
  
  const yt=mk('text',{transform:`translate(${c.yTitle[0]} ${c.yTitle[1]}) rotate(-90)`,'font-size':12.5,'text-anchor':'middle'},g,'−log10(adj.P.Val)');
  
  
  const lt=mk('text',{x:c.legend[0],y:c.legend[1],'font-size':12.6},g,'Significant');
  
  
  legendNames.forEach((n,i)=>{
    const ly=c.legend[3]+i*c.legend[4];
    const d=mk('circle',{cx:c.legend[2],cy:ly,r:2.65,fill:legendColours[i]},g);
    
    
    const t=mk('text',{x:c.legend[2]+16.5,y:ly+3.7,'font-size':10.3},g,n);
    
    
  });
}

drawVolcano(document.getElementById('vB'),{
  xRef:[0,2],xPx:[774,863],yRef:[0,4],yPx:[395.7,111],
  px0:603.5,px1:933.5,py0:63.5,py1:410.7,
  xTicks:bXTicks,yTicks:bYTicks,xMinor:[-3,-1,1,3],yMinor:[0.5,1.5,2.5,3.5],
  down:bDown,up:bUp,not:bNot,massY:bMassY,leftOuter:bLeftOuter,leftInner:bLeftInner,rightInner:bRightInner,rightOuter:bRightOuter,
  xSig:[-1,1.0],upBandY:bUpBandY,upBandOuter:bUpBandOuter,
  xTitle:[768,439.5],yTitle:[585.5,238],legend:[952.5,209.5,962.3,227,19.6]
});
drawVolcano(document.getElementById('vD'),{
  xRef:[0,5],xPx:[749,903.7],yRef:[0,30],yPx:[850.7,560.3],
  px0:604.5,px1:936.5,py0:510.7,py1:866.7,
  xTicks:dXTicks,yTicks:dYTicks,xLabels:dXLabels,xMinor:[-3.75,-1.25,1.25,3.75],yMinor:[5,15,25],
  down:dDown,up:dUp,not:dNot,massY:dMassY,leftOuter:dLeftOuter,leftInner:dLeftInner,rightInner:dRightInner,rightOuter:dRightOuter,
  xSig:[-1.0,1.0],downBandY:dDownBandY,downBandOuter:dDownBandOuter,upBandY:dUpBandY,upBandOuter:dUpBandOuter,
  xTitle:[770.7,894.5],yTitle:[581.5,688],legend:[956,659.5,966,677.7,20.2]
});
</script>
</body>
</html>
